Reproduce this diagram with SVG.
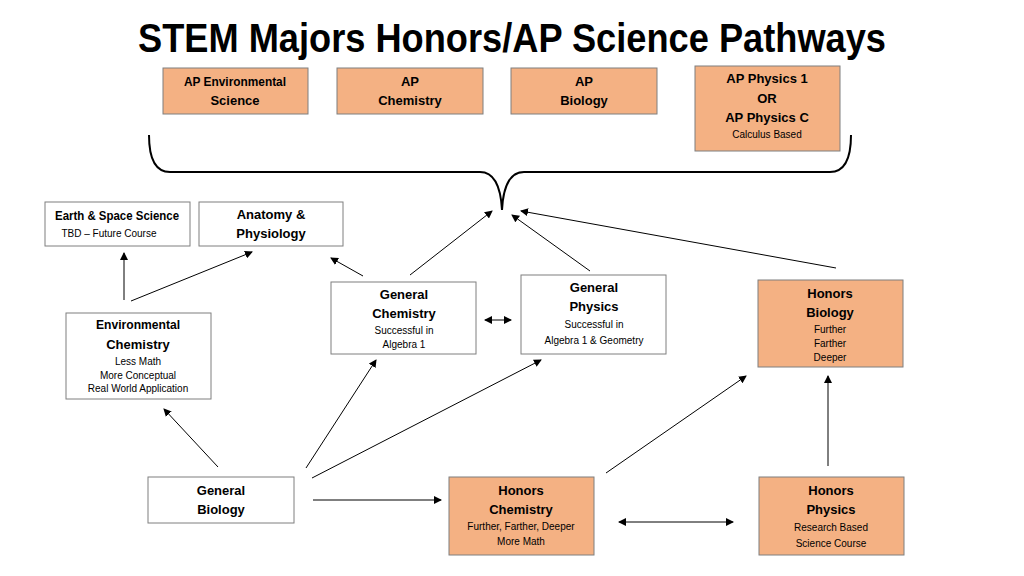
<svg xmlns="http://www.w3.org/2000/svg" width="1024" height="576" viewBox="0 0 1024 576">
<style>
.o{fill:#f4b183;stroke:#7f7f7f;stroke-width:1}
.w{fill:#fff;stroke:#7f7f7f;stroke-width:1}
.h{font-family:"Liberation Sans",Arial,sans-serif;font-weight:bold;font-size:13px;text-anchor:middle;fill:#000}
.s{font-family:"Liberation Sans","DejaVu Sans",sans-serif;font-size:10px;text-anchor:middle;fill:#000}
.c line{stroke:#000;stroke-width:1;marker-end:url(#a)}
</style>
<defs><marker id="a" markerWidth="8" markerHeight="8" refX="7" refY="4" orient="auto-start-reverse" markerUnits="userSpaceOnUse"><path d="M0,0L8,4L0,8z" fill="#000"/></marker></defs>
<rect width="1024" height="576" fill="#fff"/>
<text x="512" y="52" font-family="'Liberation Sans',Arial,sans-serif" font-weight="bold" font-size="40" text-anchor="middle" fill="#000" textLength="748" lengthAdjust="spacingAndGlyphs">STEM Majors Honors/AP Science Pathways</text>
<g id="apenv"><rect class="o" x="163" y="68" width="145" height="46"/><text class="h" x="235" y="86" textLength="102" lengthAdjust="spacingAndGlyphs">AP Environmental</text><text class="h" x="235" y="105">Science</text></g>
<g id="apchem"><rect class="o" x="337" y="68" width="146" height="46"/><text class="h" x="410" y="86">AP</text><text class="h" x="410" y="105">Chemistry</text></g>
<g id="apbio"><rect class="o" x="511" y="68" width="146" height="46"/><text class="h" x="584" y="86">AP</text><text class="h" x="584" y="105">Biology</text></g>
<g id="apphys"><rect class="o" x="695" y="66" width="145" height="85"/><text class="h" x="767" y="83">AP Physics 1</text><text class="h" x="767" y="103">OR</text><text class="h" x="767" y="122">AP Physics C</text><text class="s" x="767" y="138">Calculus Based</text></g>
<g id="brace"><path d="M149,135 Q149,172 170,172 L480,172 Q500,172 502,210 Q504,172 524,172 L830,172 Q851,172 851,135" fill="none" stroke="#000" stroke-width="2"/></g>
<g id="earth"><rect class="w" x="45" y="202" width="145" height="44"/><text class="h" x="117" y="220" textLength="124" lengthAdjust="spacingAndGlyphs">Earth &amp; Space Science</text><text class="s" x="109" y="237">TBD – Future Course</text></g>
<g id="anat"><rect class="w" x="199" y="202" width="144" height="44"/><text class="h" x="271" y="219">Anatomy &amp;</text><text class="h" x="271" y="238">Physiology</text></g>
<g id="envchem"><rect class="w" x="66" y="313" width="145" height="86"/><text class="h" x="138" y="329" textLength="84" lengthAdjust="spacingAndGlyphs">Environmental</text><text class="h" x="138" y="349">Chemistry</text><text class="s" x="138" y="365">Less Math</text><text class="s" x="138" y="379">More Conceptual</text><text class="s" x="138" y="392">Real World Application</text></g>
<g id="genchem"><rect class="w" x="331" y="282" width="145" height="72"/><text class="h" x="404" y="299">General</text><text class="h" x="404" y="318">Chemistry</text><text class="s" x="404" y="334">Successful in</text><text class="s" x="404" y="348">Algebra 1</text></g>
<g id="genphys"><rect class="w" x="521" y="275" width="145" height="79"/><text class="h" x="594" y="292">General</text><text class="h" x="594" y="311">Physics</text><text class="s" x="594" y="328">Successful in</text><text class="s" x="594" y="344">Algebra 1 &amp; Geometry</text></g>
<g id="honbio"><rect class="o" x="758" y="280" width="145" height="87"/><text class="h" x="830" y="298">Honors</text><text class="h" x="830" y="317">Biology</text><text class="s" x="830" y="333">Further</text><text class="s" x="830" y="347">Farther</text><text class="s" x="830" y="361">Deeper</text></g>
<g id="genbio"><rect class="w" x="148" y="477" width="146" height="46"/><text class="h" x="221" y="495">General</text><text class="h" x="221" y="514">Biology</text></g>
<g id="honchem"><rect class="o" x="449" y="477" width="145" height="78"/><text class="h" x="521" y="495">Honors</text><text class="h" x="521" y="514">Chemistry</text><text class="s" x="521" y="530">Further, Farther, Deeper</text><text class="s" x="521" y="545">More Math</text></g>
<g id="honphys"><rect class="o" x="759" y="477" width="145" height="78"/><text class="h" x="831" y="495">Honors</text><text class="h" x="831" y="514">Physics</text><text class="s" x="831" y="531">Research Based</text><text class="s" x="831" y="547">Science Course</text></g>
<g id="connectors" class="c">
<line x1="124" y1="300" x2="124" y2="253"/>
<line x1="131" y1="301" x2="252" y2="252"/>
<line x1="218" y1="467" x2="164" y2="409"/>
<line x1="306" y1="468" x2="376" y2="360"/>
<line x1="312" y1="478" x2="541" y2="360"/>
<line x1="313" y1="500" x2="441" y2="500"/>
<line x1="363" y1="276" x2="331" y2="258"/>
<line x1="410" y1="275" x2="492" y2="211"/>
<line x1="590" y1="271" x2="512" y2="215"/>
<line x1="836" y1="268" x2="521" y2="211"/>
<line x1="485" y1="320" x2="511" y2="320" marker-start="url(#a)"/>
<line x1="606" y1="473" x2="746" y2="376"/>
<line x1="828" y1="466" x2="828" y2="376"/>
<line x1="619" y1="522" x2="733" y2="522" marker-start="url(#a)"/>
</g>
</svg>
